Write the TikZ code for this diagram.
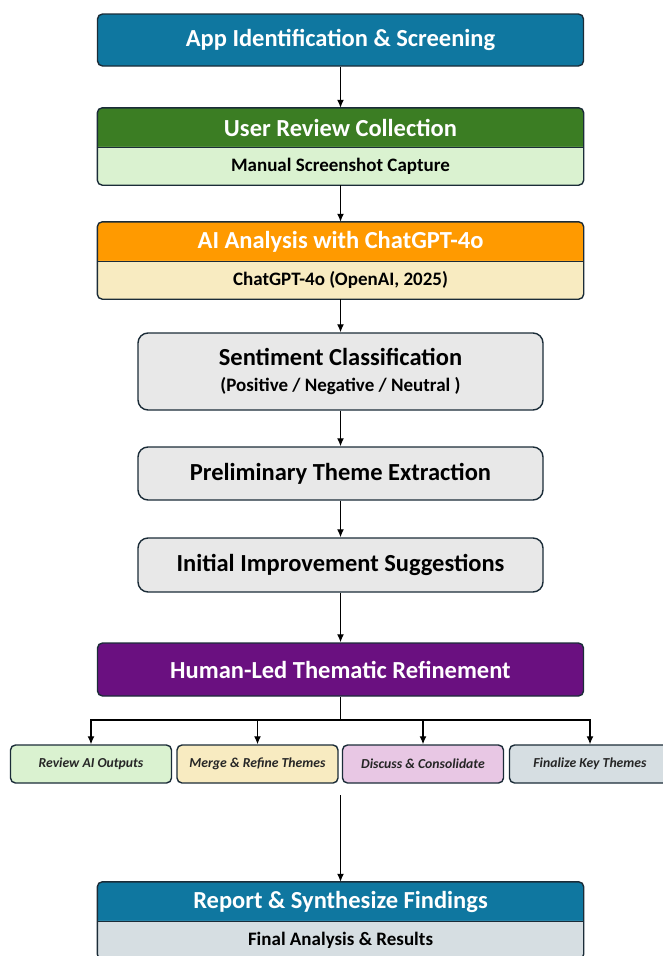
\documentclass[tikz,border=0pt]{standalone}
\usepackage{fontspec}
\setmainfont{Carlito}
\usetikzlibrary{arrows.meta,backgrounds}
\definecolor{edge}{HTML}{1B2C38}
\definecolor{appblue}{HTML}{0F77A0}
\definecolor{usergreen}{HTML}{3B7D23}
\definecolor{userpale}{HTML}{DAF2D0}
\definecolor{aiorange}{HTML}{FF9A00}
\definecolor{aipale}{HTML}{F8EBC1}
\definecolor{stepgrey}{HTML}{E8E8E8}
\definecolor{humanpurple}{HTML}{6A1080}
\definecolor{mergepale}{HTML}{F8EBC1}
\definecolor{discusspink}{HTML}{E8C7E4}
\definecolor{finalgrey}{HTML}{D6DEE2}
\definecolor{reportpale}{HTML}{D6DEE2}
\tikzset{
  bar/.style={minimum width=486pt,minimum height=39pt,text=white,
    font=\bfseries\fontsize{24.5}{28}\selectfont},
  subbar/.style={minimum width=486pt,minimum height=38pt,text=black,
    font=\bfseries\fontsize{19}{22}\selectfont},
  stepbox/.style={draw=edge,line width=1.4pt,fill=stepgrey,rounded corners=10pt,
    minimum width=405pt,text=black,font=\bfseries\fontsize{24.5}{28}\selectfont},
  subtask/.style={draw=edge,line width=1.4pt,rounded corners=5pt,minimum width=161pt,
    minimum height=38pt,text=black!85,font=\bfseries\itshape\fontsize{13.7}{16}\selectfont},
  link/.style={line width=1.3pt,->}
}
\begin{document}
\begin{tikzpicture}[x=1pt,y=-1pt,>={Latex[length=8pt,width=7pt]},
  every node/.style={align=center,inner sep=0pt}]
  \useasboundingbox (0,0) rectangle (662,956);
  \node[bar,minimum height=52pt,draw=edge,line width=1.4pt,fill=appblue,rounded corners=5pt]
    (app) at (340.5,40) {App Identification \& Screening};
  \node[bar] (user-head) at (340.5,127.5) {User Review Collection};
  \node[subbar] (user-sub) at (340.5,166) {Manual Screenshot Capture};
  \node[bar] (ai-head) at (340.5,241.5) {AI Analysis with ChatGPT-4o};
  \node[subbar] (ai-sub) at (340.5,280) {ChatGPT-4o (OpenAI, 2025)};
  \node[stepbox,minimum height=77pt] (senti) at (340.5,371.5)
    {Sentiment Classification\\[-2pt]{\fontsize{19}{22}\selectfont (Positive / Negative / Neutral )}};
  \node[stepbox,minimum height=53pt] (prelim) at (340.5,473.5) {Preliminary Theme Extraction};
  \node[stepbox,minimum height=54pt] (initial) at (340.5,565) {Initial Improvement Suggestions};
  \node[bar,minimum height=53pt,draw=edge,line width=1.4pt,fill=humanpurple,rounded corners=5pt]
    (human) at (340.5,669.5) {Human-Led Thematic Refinement};
  \node[subtask,fill=userpale] (review) at (91,764) {Review AI Outputs};
  \node[subtask,fill=mergepale] (merge) at (257.5,764) {Merge \& Refine Themes};
  \node[subtask,fill=discusspink] (discuss) at (423,764) {Discuss \& Consolidate};
  \node[subtask,fill=finalgrey] (finalize) at (590,764) {Finalize Key Themes};
  \node[bar] (report-head) at (340.5,901.5) {Report \& Synthesize Findings};
  \node[subbar] (report-sub) at (340.5,940) {Final Analysis \& Results};
  \coordinate (gap) at (340.5,795);
  \coordinate (fork) at (340.5,720);
  % two-part boxes
  \begin{scope}[on background layer]
    \foreach \n/\c/\p in {user/usergreen/userpale,ai/aiorange/aipale,report/appblue/reportpale} {
      \fill[\c] (\n-head.south west) [rounded corners=5pt] -- (\n-head.north west)
        -- (\n-head.north east) -- (\n-head.south east);
      \fill[\p] (\n-sub.north west) [rounded corners=5pt] -- (\n-sub.south west)
        -- (\n-sub.south east) -- (\n-sub.north east);
    }
  \end{scope}
  \foreach \n in {user,ai,report} {
    \draw[edge,line width=1.4pt,rounded corners=5pt] (\n-head.north west) rectangle (\n-sub.south east);
    \draw[edge,line width=1.4pt] (\n-head.south west) -- (\n-head.south east);
  }
  % arrows
  \draw[link] (app.south) -- (user-head.north);
  \draw[link] (user-sub.south) -- (ai-head.north);
  \draw[link] (ai-sub.south) -- (senti.north);
  \draw[link] (senti.south) -- (prelim.north);
  \draw[link] (prelim.south) -- (initial.north);
  \draw[link] (initial.south) -- (human.north);
  \draw[line width=1.3pt] (human.south) -- (fork);
  \foreach \t in {review,merge,discuss,finalize}
    \draw[link] (fork) -| (\t.north);
  \draw[link] (gap) -- (report-head.north);
\end{tikzpicture}
\end{document}
